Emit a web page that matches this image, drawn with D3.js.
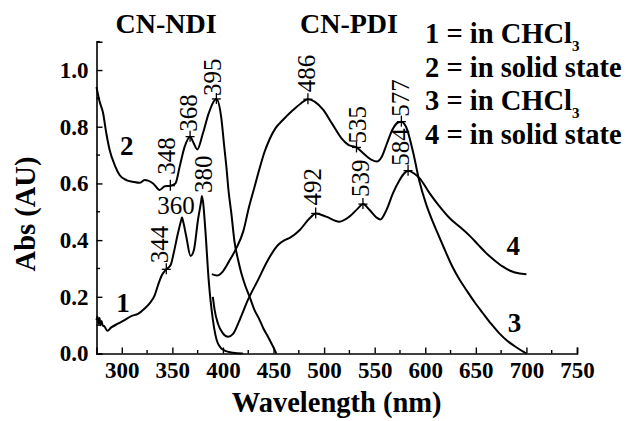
<!DOCTYPE html>
<html>
<head>
<meta charset="utf-8">
<script src="https://cdn.jsdelivr.net/npm/d3@7"></script>
<style>
  html, body { margin: 0; padding: 0; background: #fff; }
  svg { display: block; }
  text { font-family: "Liberation Serif", "Times New Roman", serif; fill: #000; }
</style>
</head>
<body>
<div id="chart"></div>
<script>
// ---------------- DATA ----------------
const xTicks = [300, 350, 400, 450, 500, 550, 600, 650, 700, 750];
const xMinorTicks = [325, 375, 425, 475, 525, 575, 625, 675, 725];
const yTicks = [0.0, 0.2, 0.4, 0.6, 0.8, 1.0];
const yMinorTicks = [0.1, 0.3, 0.5, 0.7, 0.9, 1.1];

// Curve 1: CN-NDI in CHCl3
const curve1Nm  = [275,276,277,278,279,280,281,283,285.7,289.6,296,302.8,309.4,316,322.6,327.5,332.5,335.7,339.7,344,348.3,351.6,355.5,358.9,359.5,361,363.8,368,371.3,375.3,378.6,379.2,380.5,382.6,385.9,390.1,395,401.7,410,419.6];
const curve1Abs = [0.118,0.13,0.105,0.125,0.1,0.115,0.1,0.095,0.08,0.092,0.105,0.118,0.132,0.14,0.159,0.177,0.205,0.24,0.277,0.297,0.312,0.359,0.424,0.473,0.48,0.46,0.412,0.344,0.365,0.471,0.541,0.556,0.53,0.436,0.259,0.118,0.036,0.01,0.003,0];

// Curve 2: CN-NDI in solid state
const curve2Nm  = [275,278,281.4,284.7,288,293,298,304.5,311,317.6,322.6,326,331,337.4,342.4,348,353,357.2,362.1,367.5,370.4,374.7,380.2,385.9,391.8,393.5,398.4,401,403.5,405.5,408.3,411.6,415,418.2,422,426.4,431,436.3,440,444.5,449,452.8];
const curve2Abs = [0.94,0.89,0.85,0.777,0.718,0.665,0.629,0.612,0.606,0.602,0.612,0.61,0.6,0.577,0.59,0.592,0.6,0.659,0.729,0.765,0.747,0.72,0.777,0.847,0.894,0.898,0.83,0.74,0.655,0.575,0.494,0.39,0.33,0.283,0.24,0.2,0.155,0.118,0.088,0.059,0.028,0];

// Curve 3: CN-PDI in CHCl3
const curve3Nm  = [389,394,400,406,413,420,426,431,436,441,446,452,459,469,477,484,491,499,508,517,524,532,540,547,552,557,562,568,573,576.4,581,588,594,601,608,614,620,627,634,641,649,657,665,673,681,690,700];
const curve3Abs = [0.28,0.275,0.29,0.325,0.37,0.43,0.52,0.585,0.65,0.71,0.755,0.795,0.823,0.858,0.882,0.897,0.888,0.86,0.81,0.76,0.736,0.727,0.702,0.683,0.677,0.694,0.74,0.793,0.815,0.818,0.80,0.71,0.61,0.525,0.46,0.41,0.36,0.305,0.26,0.222,0.18,0.142,0.105,0.072,0.045,0.022,0];

// Curve 4: CN-PDI in solid state
const curve4Nm  = [390,391.8,395,400,405,410,416.5,424.7,434.6,444.5,454.4,461,466,476,485.7,491.7,502,515,525,533.5,538.4,545,551.7,555.6,561.6,568,574.7,579,583,589,594.5,604.4,614.3,624.2,634,644,652,660,668,676,684,692,700];
const curve4Abs = [0.2,0.153,0.106,0.071,0.059,0.069,0.118,0.189,0.259,0.33,0.383,0.40,0.408,0.436,0.477,0.494,0.483,0.465,0.483,0.512,0.527,0.506,0.48,0.473,0.506,0.565,0.612,0.635,0.645,0.635,0.618,0.565,0.518,0.477,0.447,0.415,0.385,0.355,0.33,0.308,0.292,0.283,0.28];

// Peak annotations (label, position of mark on curve)
const peakLabels = ["348","368","395","344","360","380","486","535","577","492","539","584"];
const peakNm     = [348, 367.5, 393.5, 344, 359.5, 379.2, 484, 532, 576.4, 491.7, 538.4, 583];
const peakAbs    = [0.592, 0.765, 0.898, 0.297, 0.48, 0.556, 0.897, 0.727, 0.818, 0.494, 0.527, 0.645];
const peakHasMark = [true, true, true, true, false, false, true, true, true, true, true, true];

const curveNames = ["1", "2", "3", "4"];
const legendLines = [["1 = in CHCl", "3"], ["2 = in solid state", ""], ["3 = in CHCl", "3"], ["4 = in solid state", ""]];
const groupTitles = ["CN-NDI", "CN-PDI"];

// ---------------- LAYOUT ----------------
const W = 626, H = 421;
const svg = d3.select("#chart").append("svg").attr("width", W).attr("height", H);

const x = d3.scaleLinear().domain([275, 750]).range([96.5, 577]);
const y = d3.scaleLinear().domain([0, 1.1]).range([353.5, 41.7]);

const series = [
  curve1Nm.map((d, i) => [d, curve1Abs[i]]),
  curve2Nm.map((d, i) => [d, curve2Abs[i]]),
  curve3Nm.map((d, i) => [d, curve3Abs[i]]),
  curve4Nm.map((d, i) => [d, curve4Abs[i]])
];

const line = d3.line().x(d => x(d[0])).y(d => y(d[1])).curve(d3.curveMonotoneX);

svg.append("g").selectAll("path").data(series).join("path")
  .attr("d", line)
  .attr("fill", "none")
  .attr("stroke", "#000")
  .attr("stroke-width", 2)
  .attr("stroke-linejoin", "round");

// Axes
const xAxis = svg.append("g").attr("transform", `translate(0,${y(0)})`)
  .call(d3.axisBottom(x).tickValues(xTicks).tickSize(-6).tickPadding(8).tickFormat(d3.format("d")));
const yAxis = svg.append("g").attr("transform", `translate(${x(275)},0)`)
  .call(d3.axisLeft(y).tickValues(yTicks).tickSize(-6).tickPadding(8).tickFormat(d3.format(".1f")));

[xAxis, yAxis].forEach(g => {
  g.select(".domain").attr("stroke", "#000").attr("stroke-width", 1.6);
  g.selectAll(".tick line").attr("stroke", "#000").attr("stroke-width", 1.4);
  g.selectAll(".tick text").attr("font-family", "Liberation Serif").attr("font-weight", "bold").attr("font-size", 23).attr("fill", "#000");
});

// minor ticks
svg.append("g").selectAll("line").data(xMinorTicks).join("line")
  .attr("x1", d => x(d)).attr("x2", d => x(d))
  .attr("y1", y(0)).attr("y2", y(0) - 3.5)
  .attr("stroke", "#000").attr("stroke-width", 1.4);
svg.append("g").selectAll("line").data(yMinorTicks).join("line")
  .attr("x1", x(275)).attr("x2", x(275) + 3.5)
  .attr("y1", d => y(d)).attr("y2", d => y(d))
  .attr("stroke", "#000").attr("stroke-width", 1.4);

// Axis titles
svg.append("text")
  .attr("x", 336.7).attr("y", 412)
  .attr("text-anchor", "middle")
  .attr("font-weight", "bold").attr("font-size", 28.5)
  .text("Wavelength (nm)");
svg.append("text")
  .attr("transform", "translate(35,214) rotate(-90)")
  .attr("text-anchor", "middle")
  .attr("font-weight", "bold").attr("font-size", 28.5)
  .text("Abs (AU)");

// Group titles
const titlePos = [[166, 33], [349, 33]];
svg.append("g").selectAll("text").data(groupTitles).join("text")
  .attr("x", (d, i) => titlePos[i][0]).attr("y", (d, i) => titlePos[i][1])
  .attr("text-anchor", "middle")
  .attr("font-weight", "bold").attr("font-size", 28)
  .text(d => d);

// Legend
const legend = svg.append("g");
legendLines.forEach((l, i) => {
  const t = legend.append("text")
    .attr("x", 425).attr("y", 43 + i * 33.5)
    .attr("font-weight", "bold").attr("font-size", 28.5);
  t.append("tspan").text(l[0]);
  if (l[1]) t.append("tspan").attr("font-size", 15).attr("dy", 8).text(l[1]);
});

// Curve number labels
const curveLabelPos = [[123, 311.7], [126.7, 155], [514.5, 331.7], [513.3, 255]];
svg.append("g").selectAll("text").data(curveNames).join("text")
  .attr("x", (d, i) => curveLabelPos[i][0]).attr("y", (d, i) => curveLabelPos[i][1])
  .attr("text-anchor", "middle")
  .attr("font-weight", "bold").attr("font-size", 27)
  .text(d => d);

// Peak marks and labels
const labelOffset = { // [dx of label centre from mark, gap above mark]
  "348": [-4, 11], "368": [-2, 5], "395": [-3.4, 3], "344": [-6.7, 6],
  "380": [1.5, 3], "486": [-1, 7], "535": [1, 4], "577": [-0.5, 5],
  "492": [-3.5, 8], "539": [-2, 7], "584": [-8, 5]
};
const peaks = svg.append("g");
peakLabels.forEach((lab, i) => {
  const px = x(peakNm[i]), py = y(peakAbs[i]);
  if (peakHasMark[i]) {
    peaks.append("line").attr("x1", px - 4.5).attr("x2", px + 4.5).attr("y1", py).attr("y2", py)
      .attr("stroke", "#000").attr("stroke-width", 1.3);
    peaks.append("line").attr("x1", px).attr("x2", px).attr("y1", py - 6).attr("y2", py + 5)
      .attr("stroke", "#000").attr("stroke-width", 1.3);
  }
  if (lab === "360") {
    peaks.append("text").attr("x", px - 6).attr("y", py - 3.5)
      .attr("text-anchor", "middle").attr("font-size", 25).text(lab);
  } else {
    const off = labelOffset[lab];
    const cx = px + off[0], by = py - off[1];
    peaks.append("text")
      .attr("transform", `translate(${cx + 8.5},${by}) rotate(-90)`)
      .attr("text-anchor", "start").attr("font-size", 25).text(lab);
  }
});
</script>
</body>
</html>
